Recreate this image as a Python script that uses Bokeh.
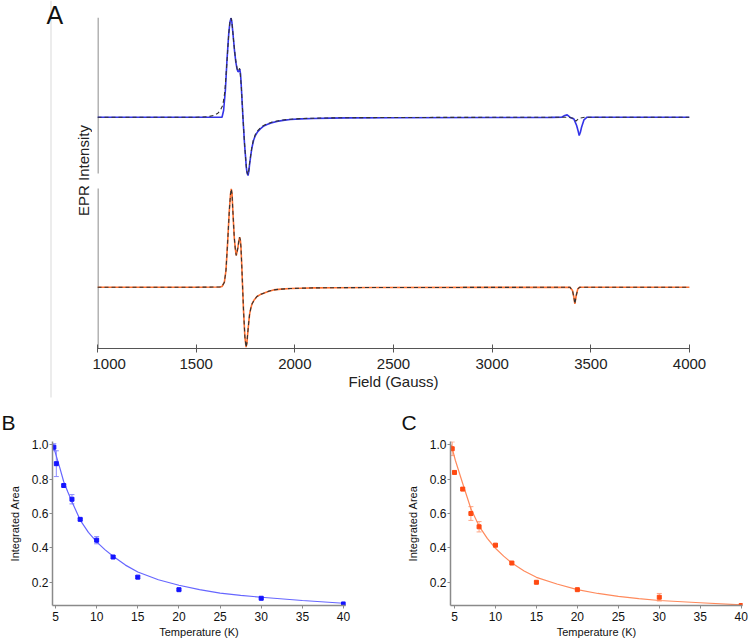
import numpy as np
from bokeh.plotting import figure
from bokeh.layouts import column, row
from bokeh.models import (Range1d, FixedTicker, Whisker, TeeHead, ColumnDataSource,
                          PrintfTickFormatter)
from bokeh.core.properties import value
from bokeh.embed import file_html
from bokeh.resources import INLINE

# ---------------- Panel A: EPR spectra ----------------
field_ticks = [1000, 1500, 2000, 2500, 3000, 3500, 4000]

blue_field = [1000, 1500, 1600, 1631, 1639, 1648, 1656, 1665, 1671, 1677, 1681, 1685, 1690,
              1695, 1701, 1707, 1712, 1717, 1721, 1725, 1729, 1733, 1737, 1741, 1745, 1750,
              1754, 1758, 1763, 1767, 1771, 1777, 1783, 1791, 1800, 1812, 1825, 1840, 1859,
              1880, 1909, 1940, 1977, 2030, 2095, 2180, 2264, 2500, 3000, 3300, 3352, 3368,
              3380, 3394, 3414, 3428, 3436, 3441, 3447, 3453, 3465, 3481, 3600, 4000]
blue_int = [0, 0, 0, 0, 0.067, 0.267, 0.567, 0.833, 0.95, 0.993, 0.95, 0.867, 0.76,
            0.65, 0.55, 0.483, 0.455, 0.46, 0.48, 0.43, 0.30, 0.15, 0.0, -0.13, -0.267, -0.39,
            -0.5, -0.56, -0.583, -0.54, -0.467, -0.38, -0.30, -0.23, -0.183, -0.145, -0.117,
            -0.092, -0.073, -0.057, -0.043, -0.032, -0.023, -0.017, -0.013, -0.009, -0.007,
            -0.005, -0.003, -0.002, 0, 0.017, 0.023, 0, -0.017, -0.083, -0.14, -0.183, -0.15,
            -0.1, -0.027, 0, 0, 0]

blue_sim_field = [1000, 1500, 1560, 1589, 1610, 1622, 1635, 1645, 1656, 1665, 1671, 1677, 1681,
                  1685, 1690, 1695, 1701, 1707, 1712, 1716, 1720, 1724, 1729, 1733, 1737, 1741,
                  1745, 1750, 1754, 1758, 1763, 1767, 1771, 1777, 1783, 1791, 1800, 1812, 1825,
                  1840, 1859, 1880, 1909, 1940, 1977, 2030, 2095, 2180, 2264, 2500, 3000, 3380,
                  3410, 3425, 3440, 3470, 4000]
blue_sim_int = [0, 0.0, 0.005, 0.017, 0.04, 0.067, 0.12, 0.25, 0.55, 0.83, 0.95, 0.99, 0.95,
                0.87, 0.76, 0.66, 0.56, 0.49, 0.46, 0.47, 0.49, 0.42, 0.30, 0.15, 0.0, -0.13,
                -0.26, -0.39, -0.49, -0.55, -0.575, -0.53, -0.455, -0.37, -0.29, -0.22, -0.172,
                -0.135, -0.108, -0.085, -0.066, -0.052, -0.038, -0.028, -0.02, -0.014, -0.01,
                -0.007, -0.005, -0.003, -0.001, 0, -0.01, -0.04, -0.01, 0, 0]

orange_field = [1000, 1500, 1620, 1631, 1643, 1651, 1659, 1668, 1674, 1678, 1682, 1685, 1689,
                1693, 1698, 1703, 1708, 1712, 1716, 1720, 1724, 1727, 1731, 1734, 1740, 1747,
                1753, 1757, 1761, 1766, 1771, 1777, 1783, 1795, 1808, 1825, 1842, 1865, 1892,
                1930, 1977, 2030, 2095, 2200, 2400, 3000, 3394, 3407, 3414, 3419, 3426, 3434,
                3444, 4000]
orange_int = [0, 0, 0.002, 0.007, 0.05, 0.167, 0.433, 0.767, 0.93, 0.983, 0.93, 0.80, 0.65,
              0.50, 0.39, 0.317, 0.36, 0.40, 0.46, 0.50, 0.47, 0.40, 0.22, 0.067, -0.233, -0.50,
              -0.60, -0.56, -0.467, -0.36, -0.267, -0.21, -0.167, -0.125, -0.093, -0.074, -0.06,
              -0.042, -0.027, -0.019, -0.013, -0.01, -0.007, -0.005, -0.003, -0.002, 0, -0.033,
              -0.1, -0.167, -0.083, -0.017, 0, 0]
orange_sim_int = list(orange_int)

BLUE_OFFSET = 1.70

# ---------------- Panels B and C ----------------
temp_ticks = [5, 10, 15, 20, 25, 30, 35, 40]
area_ticks = [0.2, 0.4, 0.6, 0.8, 1.0]

b_temp = [4.8, 5.1, 6, 7, 8, 10, 12, 15, 20, 30, 40]
b_area = [0.986, 0.89, 0.763, 0.683, 0.566, 0.445, 0.347, 0.23, 0.157, 0.107, 0.074]
b_err = [0.02, 0.075, 0.005, 0.027, 0.005, 0.021, 0.007, 0.007, 0.005, 0.004, 0.004]
b_fit_t = [4.7, 5.0, 5.5, 6, 6.5, 7, 8, 9, 10, 11, 12, 13.5, 15, 17.5, 20, 22.5, 25, 27.5, 30, 35, 40]
b_fit_a = [1.0, 0.95, 0.87, 0.785, 0.725, 0.669, 0.562, 0.49, 0.435, 0.39, 0.351, 0.30, 0.26,
           0.215, 0.183, 0.157, 0.137, 0.124, 0.113, 0.094, 0.078]

c_temp = [4.72, 5, 6, 7, 8, 10, 12, 15, 20, 30, 40]
c_area = [0.977, 0.839, 0.742, 0.60, 0.523, 0.416, 0.312, 0.20, 0.157, 0.113, 0.065]
c_err = [0.04, 0.007, 0.006, 0.04, 0.03, 0.008, 0.006, 0.006, 0.004, 0.022, 0.004]
c_fit_t = [4.6, 5.1, 6, 7, 8, 9, 10, 11, 12, 13.5, 15, 17.5, 20, 22.5, 25, 27.5, 30, 35, 40]
c_fit_a = [1.0, 0.91, 0.775, 0.628, 0.527, 0.455, 0.398, 0.352, 0.312, 0.266, 0.229, 0.19,
           0.157, 0.135, 0.118, 0.105, 0.094, 0.081, 0.069]

FONT = "Liberation Sans"
H_A = 400

# ---------------- left strip: "A", separator line and the y-axis title ----------------
pL = figure(width=92, height=H_A, x_range=Range1d(0, 92), y_range=Range1d(0, H_A),
            x_axis_type=None, y_axis_type=None, output_backend="svg", toolbar_location=None,
            min_border=0)
pL.frame_align = False
pL.grid.visible = False
pL.outline_line_color = None
pL.segment(x0=[50.5], x1=[50.5], y0=[3], y1=[H_A], line_color="#d9d9d9", line_width=1)
pL.text(x=[46], y=[H_A - 14], text=["A"], text_font=value(FONT), text_font_size="25px",
        text_color="#111111", text_baseline="alphabetic", text_align="left")
pL.text(x=[82.5], y=[H_A - 170], text=["EPR Intensity"], text_font=value(FONT),
        text_font_size="15px", text_color="#222222", text_baseline="middle",
        text_align="center", angle=np.pi / 2)

# ---------------- Figure A ----------------
pA = figure(width=658, height=H_A, x_range=Range1d(1000, 4000), y_range=Range1d(-0.613, 2.697),
            output_backend="svg", toolbar_location=None,
            min_border_left=5, min_border_right=61, min_border_top=17, min_border_bottom=52)
pA.xgrid.visible = False
pA.ygrid.visible = False
pA.outline_line_color = None
pA.yaxis.visible = False

xa = pA.xaxis[0]
xa.ticker = FixedTicker(ticks=field_ticks)
xa.minor_tick_line_color = None
xa.major_tick_in = 4
xa.major_tick_out = 4
xa.axis_line_color = "#555555"
xa.major_tick_line_color = "#555555"
xa.major_label_text_font = FONT
xa.major_label_text_font_size = "15px"
xa.major_label_text_color = "#222222"
xa.major_label_standoff = 6
xa.axis_label = "Field (Gauss)"
xa.axis_label_text_font = FONT
xa.axis_label_text_font_size = "15px"
xa.axis_label_text_font_style = "normal"
xa.axis_label_text_color = "#222222"
xa.axis_label_standoff = 1

# split vertical axis lines
x_edge = 1002.5
pA.segment(x0=[x_edge, x_edge], x1=[x_edge, x_edge], y0=[1.137, -0.613], y1=[2.697, 0.987],
           line_color="#666666", line_width=1)

pA.line(blue_field, np.array(blue_int) + BLUE_OFFSET, line_color="#3434e8", line_width=1.6)
pA.line(blue_sim_field, np.array(blue_sim_int) + BLUE_OFFSET, line_color="#333333",
        line_width=1.1, line_dash="4 3")
pA.line(orange_field, orange_int, line_color="#ff7030", line_width=1.6)
pA.line(orange_field, orange_sim_int, line_color="#333333", line_width=1.1, line_dash="4 3")


# ---------------- Figures B and C ----------------
def make_panel(x_range, border_left, border_right, temps, areas, errs, fit_t, fit_a,
               pt_color, fit_color, err_color, letter, letter_offset):
    p = figure(width=375, height=240, x_range=x_range, y_range=Range1d(0.065, 1.019),
               output_backend="svg", toolbar_location=None,
               min_border_left=border_left, min_border_right=border_right,
               min_border_top=41, min_border_bottom=35)
    p.xgrid.visible = False
    p.ygrid.visible = False
    p.outline_line_color = None
    p.title.text = letter
    p.title.align = "left"
    p.title.offset = letter_offset
    p.title.text_font = FONT
    p.title.text_font_size = "21px"
    p.title.text_font_style = "normal"
    p.title.text_color = "#111111"
    p.title.standoff = 15
    for ax, ticks, lab in ((p.xaxis[0], temp_ticks, "Temperature (K)"),
                           (p.yaxis[0], area_ticks, "Integrated Area")):
        ax.ticker = FixedTicker(ticks=ticks)
        ax.minor_tick_line_color = None
        ax.major_tick_in = 0
        ax.major_tick_out = 3
        ax.axis_line_color = "#8a8a8a"
        ax.axis_line_width = 1.5
        ax.major_tick_line_color = "#8a8a8a"
        ax.major_label_text_font = FONT
        ax.major_label_text_font_size = "12px"
        ax.major_label_text_color = "#111111"
        ax.axis_label = lab
        ax.axis_label_text_font = FONT
        ax.axis_label_text_font_size = "11px"
        ax.axis_label_text_font_style = "normal"
        ax.axis_label_text_color = "#111111"
    p.yaxis[0].formatter = PrintfTickFormatter(format="%.1f")
    p.xaxis[0].major_label_standoff = 3
    p.xaxis[0].axis_label_standoff = 2
    p.yaxis[0].major_label_standoff = 1
    p.yaxis[0].axis_label_standoff = 8

    p.line(fit_t, fit_a, line_color=fit_color, line_width=1.2)
    src = ColumnDataSource(dict(t=temps, a=areas,
                                up=[a + e for a, e in zip(areas, errs)],
                                lo=[a - e for a, e in zip(areas, errs)]))
    w = Whisker(source=src, base="t", upper="up", lower="lo", line_color=err_color,
                line_width=1,
                upper_head=TeeHead(size=5, line_color=err_color, line_width=1),
                lower_head=TeeHead(size=5, line_color=err_color, line_width=1))
    p.add_layout(w)
    p.scatter("t", "a", source=src, marker="square", size=4, fill_color=pt_color,
              line_color=pt_color)
    return p


pB = make_panel(Range1d(4.635, 40.24), 52, 30, b_temp, b_area, b_err, b_fit_t, b_fit_a,
                "#1414ff", "#6666ff", "#8c8cff", "B", -51)
pC = make_panel(Range1d(4.51, 40.16), 75, 8, c_temp, c_area, c_err, c_fit_t, c_fit_a,
                "#ff4a12", "#ff8a5c", "#ffa585", "C", -49)

layout = column(row(pL, pA), row(pB, pC))

open("out.html", "w").write(file_html(layout, INLINE))
